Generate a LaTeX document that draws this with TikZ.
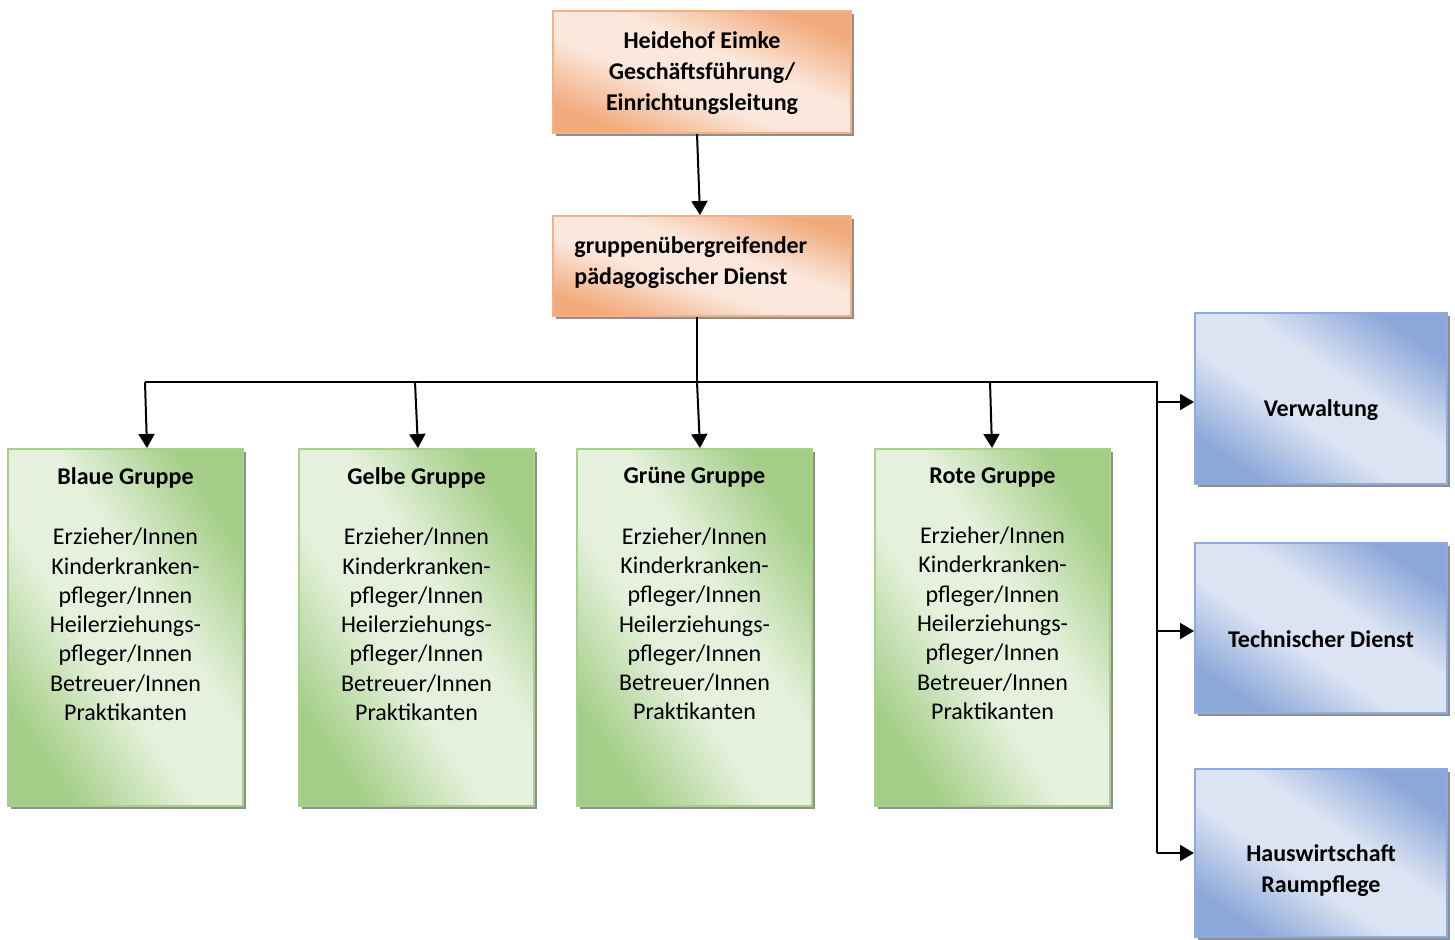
\documentclass[tikz,border=0pt]{standalone}
\usepackage{fontspec}
\setmainfont{Carlito}
\usetikzlibrary{arrows.meta,shadows}
\definecolor{ordark}{HTML}{F2AA7C}
\definecolor{orlight}{HTML}{FBE7DB}
\definecolor{orborder}{HTML}{F4B183}
\definecolor{grdark}{HTML}{A4CE88}
\definecolor{grlight}{HTML}{E5F1DC}
\definecolor{grborder}{HTML}{A9D18E}
\definecolor{bldark}{HTML}{8CA8DA}
\definecolor{bllight}{HTML}{DCE4F3}
\definecolor{blborder}{HTML}{8FAADC}
\pgfdeclarehorizontalshading{orsh}{100bp}{color(0bp)=(ordark); color(25bp)=(ordark); color(43bp)=(orlight); color(57bp)=(orlight); color(75bp)=(ordark); color(100bp)=(ordark)}
\pgfdeclarehorizontalshading{grsh}{100bp}{color(0bp)=(grdark); color(25bp)=(grdark); color(43bp)=(grlight); color(57bp)=(grlight); color(75bp)=(grdark); color(100bp)=(grdark)}
\pgfdeclarehorizontalshading{blsh}{100bp}{color(0bp)=(bldark); color(25bp)=(bldark); color(43bp)=(bllight); color(57bp)=(bllight); color(75bp)=(bldark); color(100bp)=(bldark)}
\begin{document}
\begin{tikzpicture}[x=0.5pt,y=-0.5pt,
  base/.style={inner sep=0pt, line width=1pt,
    drop shadow={shadow xshift=1.5pt, shadow yshift=-1.5pt, fill=black!55, opacity=0.8}},
  orbox/.style={base, draw=orborder, shading=orsh, minimum width=149pt},
  grbox/.style={base, draw=grborder, shading=grsh, shading angle=33.4, minimum width=117.5pt, minimum height=178.5pt},
  blbox/.style={base, draw=blborder, shading=blsh, shading angle=56, minimum width=126pt},
  txt/.style={inner sep=0pt, align=center, font=\fontsize{12}{14.65}\selectfont},
  btxt/.style={inner sep=0pt, align=center, font=\fontsize{12}{15.5}\selectfont\bfseries},
  ln/.style={line width=1pt, draw=black},
  arr/.style={ln, -{Triangle[width=8pt,length=7pt]}}]
\useasboundingbox (0,0) rectangle (1455,940);
% top boxes
\node[orbox, shading angle=67.7, minimum height=61pt] (top) at (702,72) {};
\node[btxt, anchor=center] (toptxt) at (702,73) {Heidehof Eimke\\Geschäftsführung/\\Einrichtungsleitung};
\node[orbox, shading angle=71.4, minimum height=50pt] (mid) at (702,266) {};
\node[btxt, align=left, anchor=west] (midtxt) at (574,263) {gruppenübergreifender\\pädagogischer Dienst};
% green boxes
\node[grbox] (blaue) at (125.5,627.5) {};
\node[grbox] (gelbe) at (416.5,627.5) {};
\node[grbox] (gruene) at (694.5,627.5) {};
\node[grbox] (rote) at (992.5,627.5) {};
\foreach \n/\t in {blaue/Blaue Gruppe, gelbe/Gelbe Gruppe, gruene/Grüne Gruppe, rote/Rote Gruppe}{
  \node[txt, anchor=north] (\n txt) at ([yshift=-9.5pt]\n.north) {\textbf{\t}\\[15.6pt]Erzieher/Innen\\Kinderkranken-\\pfleger/Innen\\Heilerziehungs-\\pfleger/Innen\\Betreuer/Innen\\Praktikanten};
}
% blue boxes
\node[blbox, minimum height=85.5pt] (verw) at (1321,398.5) {};
\node[blbox, minimum height=85pt] (tech) at (1321,628) {};
\node[blbox, minimum height=84pt] (haus) at (1321,853) {};
\node[btxt] (verwtxt) at (1321,410) {Verwaltung};
\node[btxt] (techtxt) at (1321,639) {Technischer Dienst};
\node[btxt] (haustxt) at (1321,871) {Hauswirtschaft\\Raumpflege};
% connectors
\coordinate (busL) at (145,382);
\coordinate (busG) at (415,382);
\coordinate (busM) at (697,382);
\coordinate (busRo) at (990,382);
\coordinate (busR) at (1157,382);
\coordinate (brV) at (1157,402);
\coordinate (brT) at (1157,631);
\coordinate (brH) at (1157,853);
\draw[arr] ([xshift=-2.5pt]top.south) -- ([xshift=-1pt]mid.north);
\draw[ln] ([xshift=-2.5pt]mid.south) -- (busM);
\draw[ln] (busL) -- (busR) -- (brH);
\draw[arr] (busL) -- ([xshift=10.75pt]blaue.north);
\draw[arr] (busG) -- ([xshift=0.75pt]gelbe.north);
\draw[arr] (busM) -- ([xshift=2.75pt]gruene.north);
\draw[arr] (busRo) -- ([xshift=-0.25pt]rote.north);
\draw[arr] (brV) -- (brV -| verw.west);
\draw[arr] (brT) -- (brT -| tech.west);
\draw[arr] (brH) -- (brH -| haus.west);
\end{tikzpicture}
\end{document}
